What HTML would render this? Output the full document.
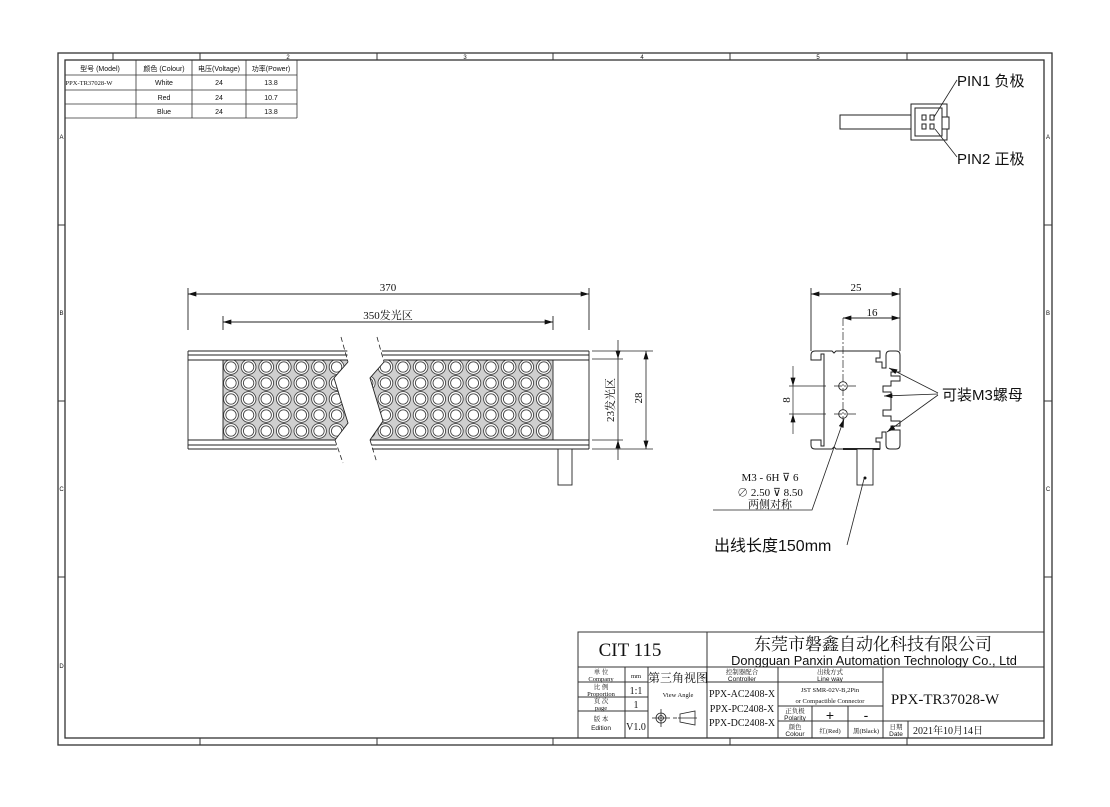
<!DOCTYPE html>
<html><head><meta charset="utf-8"><style>
html,body{margin:0;padding:0;background:#fff;}
svg{display:block;}
text{font-family:"Liberation Sans","Noto Sans CJK SC",sans-serif;fill:#111;}
text.s,.s text{font-family:"Liberation Serif","Noto Serif CJK SC","Noto Sans CJK SC",serif;}
.s text.ss{font-family:"Liberation Sans","Noto Sans CJK SC",sans-serif;}
</style></head><body>
<svg width="1110" height="807" viewBox="0 0 1110 807" xmlns="http://www.w3.org/2000/svg">
<defs>
<marker id="a" viewBox="0 0 10 6" refX="10" refY="3" markerWidth="9" markerHeight="5" orient="auto-start-reverse" markerUnits="userSpaceOnUse"><path d="M0,0L10,3L0,6z" fill="#111"/></marker>
<clipPath id="cl"><polygon points="180,330 346,330 348,362 334,378 348,423 335,440 342,470 180,470"/></clipPath>
<clipPath id="cr"><polygon points="378,330 600,330 600,470 377,470 370,440 383,421 370,378 384,362"/></clipPath>
<g id="col" fill="#fff" stroke="#444" stroke-width="0.9">
<circle cx="0" cy="367" r="7.4"/><circle cx="0" cy="383" r="7.4"/><circle cx="0" cy="399" r="7.4"/><circle cx="0" cy="415" r="7.4"/><circle cx="0" cy="431" r="7.4"/>
<circle cx="0" cy="367" r="5.2"/><circle cx="0" cy="383" r="5.2"/><circle cx="0" cy="399" r="5.2"/><circle cx="0" cy="415" r="5.2"/><circle cx="0" cy="431" r="5.2"/>
</g>
<g id="strip">
<rect x="223" y="360" width="330" height="80" fill="#cfcfcf"/>
<use href="#col" x="231"/><use href="#col" x="248.6"/><use href="#col" x="266.2"/><use href="#col" x="283.8"/><use href="#col" x="301.4"/><use href="#col" x="319"/><use href="#col" x="336.6"/><use href="#col" x="354.2"/>
<use href="#col" x="367.8"/><use href="#col" x="385.4"/><use href="#col" x="403"/><use href="#col" x="420.6"/><use href="#col" x="438.2"/><use href="#col" x="455.8"/><use href="#col" x="473.4"/><use href="#col" x="491"/><use href="#col" x="508.6"/><use href="#col" x="526.2"/><use href="#col" x="543.8"/>
<rect x="180" y="330" width="43" height="140" fill="#fff"/>
<rect x="553" y="330" width="50" height="140" fill="#fff"/>
<rect x="180" y="330" width="420" height="30" fill="#fff"/>
<rect x="180" y="440" width="420" height="30" fill="#fff"/>
<g stroke="#222" stroke-width="0.9" fill="none">
<line x1="188" y1="351" x2="589" y2="351"/><line x1="188" y1="355" x2="589" y2="355"/><line x1="188" y1="360" x2="589" y2="360"/>
<line x1="188" y1="440" x2="589" y2="440"/><line x1="188" y1="445" x2="589" y2="445"/><line x1="188" y1="449" x2="589" y2="449"/>
<line x1="188" y1="351" x2="188" y2="449"/><line x1="223" y1="360" x2="223" y2="440"/><line x1="553" y1="360" x2="553" y2="440"/><line x1="589" y1="351" x2="589" y2="449"/>
</g>
</g>
</defs>
<rect x="0" y="0" width="1110" height="807" fill="#fff"/>
<rect x="58" y="53" width="994" height="692" fill="none" stroke="#333" stroke-width="1.3"/>
<rect x="65" y="60" width="979" height="678" fill="none" stroke="#333" stroke-width="1.3"/>
<g stroke="#333" stroke-width="1">
<line x1="113" y1="53" x2="113" y2="60"/><line x1="200" y1="53" x2="200" y2="60"/><line x1="377" y1="53" x2="377" y2="60"/><line x1="553" y1="53" x2="553" y2="60"/><line x1="730" y1="53" x2="730" y2="60"/><line x1="907" y1="53" x2="907" y2="60"/>
<line x1="200" y1="738" x2="200" y2="745"/><line x1="377" y1="738" x2="377" y2="745"/><line x1="553" y1="738" x2="553" y2="745"/><line x1="730" y1="738" x2="730" y2="745"/><line x1="907" y1="738" x2="907" y2="745"/>
<line x1="58" y1="225" x2="65" y2="225"/><line x1="58" y1="401" x2="65" y2="401"/><line x1="58" y1="577" x2="65" y2="577"/>
<line x1="1044" y1="225" x2="1052" y2="225"/><line x1="1044" y1="401" x2="1052" y2="401"/><line x1="1044" y1="577" x2="1052" y2="577"/>
</g>
<g font-size="6" text-anchor="middle">
<text x="288" y="59">2</text><text x="465" y="59">3</text><text x="642" y="59">4</text><text x="818" y="59">5</text>
<text x="61.5" y="139">A</text><text x="61.5" y="315">B</text><text x="61.5" y="491">C</text><text x="61.5" y="668">D</text>
<text x="1048" y="139">A</text><text x="1048" y="315">B</text><text x="1048" y="491">C</text>
</g>
<g stroke="#333" stroke-width="0.8" fill="none">
<line x1="65" y1="75" x2="297" y2="75"/><line x1="65" y1="90" x2="297" y2="90"/><line x1="65" y1="104" x2="297" y2="104"/><line x1="65" y1="118" x2="297" y2="118"/>
<line x1="136" y1="60" x2="136" y2="118"/><line x1="192" y1="60" x2="192" y2="118"/><line x1="246" y1="60" x2="246" y2="118"/><line x1="297" y1="60" x2="297" y2="118"/>
</g>
<g font-size="7" text-anchor="middle">
<text x="100" y="71">型号 (Model)</text><text x="164" y="71">颜色 (Colour)</text><text x="219" y="71">电压(Voltage)</text><text x="271" y="71">功率(Power)</text>
<text x="89" y="85" class="s" font-size="6.5">PPX-TR37028-W</text><text x="164" y="85">White</text><text x="219" y="85">24</text><text x="271" y="85">13.8</text>
<text x="164" y="100">Red</text><text x="219" y="100">24</text><text x="271" y="100">10.7</text>
<text x="164" y="114">Blue</text><text x="219" y="114">24</text><text x="271" y="114">13.8</text>
</g>
<g stroke="#222" stroke-width="1" fill="#fff">
<rect x="840" y="115" width="71" height="14"/>
<rect x="911" y="104" width="36" height="36"/>
<rect x="915" y="108" width="27" height="28"/>
<rect x="942" y="117" width="7" height="12"/>
<rect x="922" y="115" width="4" height="5"/><rect x="930" y="115" width="4" height="5"/>
<rect x="922" y="124" width="4" height="5"/><rect x="930" y="124" width="4" height="5"/>
</g>
<g stroke="#222" stroke-width="0.8"><line x1="957" y1="80" x2="934" y2="117"/><line x1="957" y1="157" x2="935" y2="129"/></g>
<text x="957" y="86" font-size="15">PIN1 负极</text>
<text x="957" y="164" font-size="15">PIN2 正极</text>
<g stroke="#222" stroke-width="0.9" fill="none">
<line x1="188" y1="288" x2="188" y2="351"/><line x1="589" y1="288" x2="589" y2="351"/>
<line x1="188" y1="294" x2="589" y2="294" marker-start="url(#a)" marker-end="url(#a)"/>
<line x1="223" y1="316" x2="223" y2="360"/><line x1="553" y1="316" x2="553" y2="360"/>
<line x1="223" y1="322" x2="553" y2="322" marker-start="url(#a)" marker-end="url(#a)"/>
</g>
<text x="388" y="291" font-size="11" class="s" text-anchor="middle">370</text>
<text x="388" y="319" font-size="11" class="s" text-anchor="middle">350发光区</text>
<g clip-path="url(#cl)"><use href="#strip"/></g>
<g clip-path="url(#cr)"><use href="#strip"/></g>
<g stroke="#222" stroke-width="0.9" fill="none">
<polyline points="348,362 334,378 348,423 335,440"/>
<polyline points="384,362 370,378 383,421 370,440"/>
</g>
<g stroke="#222" stroke-width="0.8" fill="none" stroke-dasharray="5,3">
<line x1="341" y1="337" x2="348" y2="362"/><line x1="335" y1="440" x2="343" y2="463"/>
<line x1="377" y1="337" x2="384" y2="362"/><line x1="370" y1="440" x2="377" y2="463"/>
</g>
<rect x="558" y="449" width="14" height="36" fill="#fff" stroke="#222" stroke-width="0.9"/>
<g stroke="#222" stroke-width="0.8" fill="none">
<line x1="592" y1="351" x2="653" y2="351"/><line x1="592" y1="359" x2="623" y2="359"/>
<line x1="592" y1="440" x2="623" y2="440"/><line x1="592" y1="449" x2="653" y2="449"/>
<line x1="618" y1="340" x2="618" y2="359" marker-end="url(#a)"/>
<line x1="618" y1="359" x2="618" y2="440"/>
<line x1="618" y1="460" x2="618" y2="440" marker-end="url(#a)"/>
<line x1="646" y1="351" x2="646" y2="449" marker-start="url(#a)" marker-end="url(#a)"/>
</g>
<text transform="translate(614,400) rotate(-90)" font-size="11" class="s" text-anchor="middle">23发光区</text>
<text transform="translate(642,398) rotate(-90)" font-size="11" class="s" text-anchor="middle">28</text>
<g stroke="#222" stroke-width="0.9" fill="none">
<line x1="811" y1="288" x2="811" y2="351"/><line x1="900" y1="288" x2="900" y2="351"/>
<line x1="811" y1="294" x2="900" y2="294" marker-start="url(#a)" marker-end="url(#a)"/>
<line x1="843" y1="318" x2="900" y2="318" marker-start="url(#a)" marker-end="url(#a)"/>
<path d="M811,355 Q811,351 815,351 L832,351 L834,353 L836,351 L880,351 L880,358 L876,358 L876,362 L882,362 L882,368 L886,368 L886,355 Q886,351 890,351 L896,351 Q900,351 900,355 L900,372 L891,372 L891,376 L900,376 L900,381 L891,381 L891,386 L883,386 L883,392 L891,392 L891,410 L883,410 L883,416 L891,416 L891,421 L900,421 L900,426 L891,426 L891,430 L900,430 L900,445 Q900,449 896,449 L890,449 Q886,449 886,445 L886,432 L882,432 L882,438 L876,438 L876,442 L880,442 L880,449 L836,449 L834,447 L832,449 L815,449 Q811,449 811,445 L811,440 L821,440 L821,446 L824,446 L824,354 L821,354 L821,360 L811,360 Z" stroke-width="1"/>
<line x1="843" y1="449" x2="880" y2="449" stroke-width="2"/>
<circle cx="843" cy="386" r="4.3"/><circle cx="843" cy="414" r="4.3"/>
</g>
<text x="856" y="291" font-size="11" class="s" text-anchor="middle">25</text>
<text x="872" y="316" font-size="11" class="s" text-anchor="middle">16</text>
<g stroke="#222" stroke-width="0.7" fill="none">
<line x1="843" y1="318" x2="843" y2="428" stroke-dasharray="8,2,2,2"/>
<line x1="789" y1="386" x2="826" y2="386"/><line x1="834" y1="386" x2="858" y2="386" stroke-dasharray="8,2,2,2"/>
<line x1="789" y1="414" x2="826" y2="414"/><line x1="834" y1="414" x2="858" y2="414" stroke-dasharray="8,2,2,2"/>
<line x1="793" y1="366" x2="793" y2="386" marker-end="url(#a)"/>
<line x1="793" y1="434" x2="793" y2="414" marker-end="url(#a)"/>
<line x1="793" y1="386" x2="793" y2="414"/>
</g>
<text transform="translate(790,400) rotate(-90)" font-size="11" class="s" text-anchor="middle">8</text>
<rect x="857" y="449" width="16" height="36" fill="#fff" stroke="#222" stroke-width="0.9"/>
<circle cx="865" cy="478" r="1.5" fill="#111"/>
<g stroke="#222" stroke-width="0.8" fill="none">
<line x1="938" y1="393" x2="889" y2="368" marker-end="url(#a)"/>
<line x1="938" y1="394" x2="884" y2="396" marker-end="url(#a)"/>
<line x1="938" y1="395" x2="887" y2="432" marker-end="url(#a)"/>
<polyline points="713,510 812,510 844,419" marker-end="url(#a)"/>
<polyline points="847,545 864,479"/>
</g>
<text x="942" y="400" font-size="15">可装M3螺母</text>
<g font-size="11" class="s" text-anchor="middle">
<text x="770" y="481">M3 - 6H ⊽ 6</text>
<text x="770" y="496">∅ 2.50 ⊽ 8.50</text>
<text x="770" y="508">两侧对称</text>
</g>
<text x="714" y="551" font-size="16">出线长度150mm</text>
<g stroke="#333" stroke-width="1" fill="none">
<rect x="578" y="632" width="466" height="106"/>
<line x1="707" y1="632" x2="707" y2="738"/>
<line x1="578" y1="667" x2="1044" y2="667"/>
<line x1="578" y1="682" x2="648" y2="682"/><line x1="578" y1="697" x2="648" y2="697"/><line x1="578" y1="711" x2="648" y2="711"/>
<line x1="625" y1="667" x2="625" y2="738"/><line x1="648" y1="667" x2="648" y2="738"/>
<line x1="707" y1="682" x2="883" y2="682"/>
<line x1="778" y1="667" x2="778" y2="738"/><line x1="883" y1="667" x2="883" y2="738"/>
<line x1="778" y1="706" x2="883" y2="706"/><line x1="778" y1="721" x2="1044" y2="721"/>
<line x1="812" y1="706" x2="812" y2="738"/><line x1="848" y1="706" x2="848" y2="738"/>
<line x1="908" y1="721" x2="908" y2="738"/>
</g>
<text x="630" y="656" font-size="19" class="s" text-anchor="middle">CIT 115</text>
<text x="873" y="650" font-size="17" class="s" text-anchor="middle">东莞市磐鑫自动化科技有限公司</text>
<text x="874" y="665" font-size="12.8" text-anchor="middle">Dongguan Panxin Automation Technology Co., Ltd</text>
<g font-size="6.5" text-anchor="middle" class="s">
<text x="601" y="674">单 位</text><text x="601" y="681">Company</text>
<text x="601" y="689">比 例</text><text x="601" y="696">Proportion</text>
<text x="601" y="703">页 次</text><text x="601" y="710">page</text>
<text x="601" y="721">版 本</text><text x="601" y="730" class="ss">Edition</text>
<text x="636" y="678">mm</text>
<text x="742" y="674">控制器配合</text><text x="742" y="681" class="ss">Controller</text>
<text x="830" y="674">出线方式</text><text x="830" y="681" class="ss">Line way</text>
<text x="830" y="692">JST SMR-02V-B,2Pin</text><text x="830" y="703">or Compactible Connector</text>
<text x="795" y="713">正负极</text><text x="795" y="720" class="ss">Polarity</text>
<text x="795" y="729">颜色</text><text x="795" y="736" class="ss">Colour</text>
<text x="830" y="733">红(Red)</text><text x="866" y="733">黑(Black)</text>
<text x="896" y="729">日期</text><text x="896" y="736" class="ss">Date</text>
<text x="678" y="697">View Angle</text>
</g>
<g font-size="10" class="s" text-anchor="middle">
<text x="636" y="694">1:1</text><text x="636" y="708">1</text><text x="636" y="730">V1.0</text>
<text x="742" y="697">PPX-AC2408-X</text><text x="742" y="712">PPX-PC2408-X</text><text x="742" y="726">PPX-DC2408-X</text>
<text x="948" y="734">2021年10月14日</text>
</g>
<text x="678" y="682" font-size="12" class="s" text-anchor="middle">第三角视图</text>
<text x="830" y="720" font-size="14" text-anchor="middle">+</text>
<text x="866" y="720" font-size="14" text-anchor="middle">-</text>
<text x="945" y="704" font-size="15" class="s" text-anchor="middle">PPX-TR37028-W</text>
<g stroke="#222" stroke-width="0.8" fill="none">
<circle cx="661" cy="718" r="5"/><circle cx="661" cy="718" r="2.5"/>
<line x1="652" y1="718" x2="670" y2="718"/><line x1="661" y1="709" x2="661" y2="727"/>
<line x1="673" y1="718" x2="677" y2="718"/>
<path d="M680,714 L695,711 L695,725 L680,722 Z"/><line x1="678" y1="718" x2="697" y2="718"/>
</g>
</svg>
</body></html>
